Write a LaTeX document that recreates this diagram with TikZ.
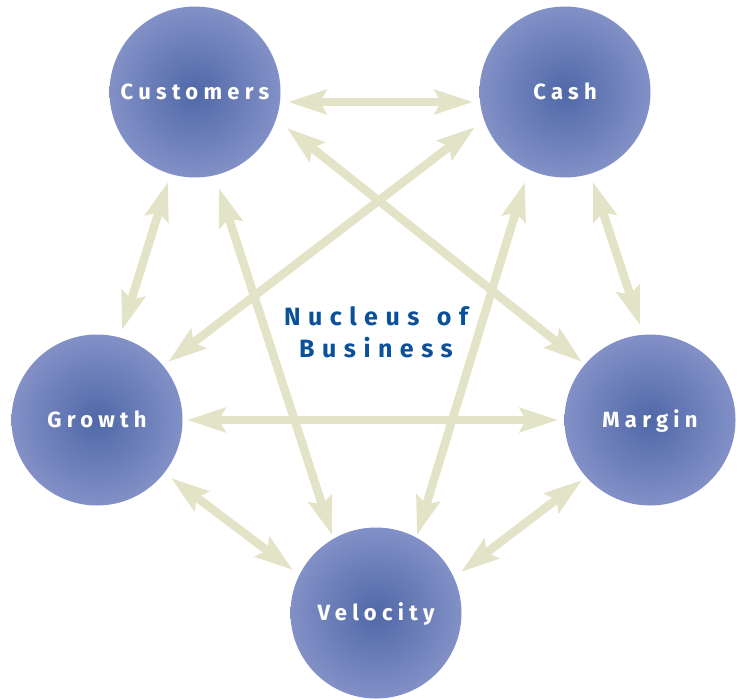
\documentclass[tikz,border=0pt]{standalone}
\usepackage{fontspec}
\setmainfont{Fira Sans}
\newfontfamily\labfont[LetterSpace=24]{Fira Sans}
\newfontfamily\nucfont[LetterSpace=30]{Fira Sans}
\usetikzlibrary{arrows.meta}
\definecolor{arrowc}{RGB}{227,228,199}
\definecolor{ballin}{RGB}{80,104,168}
\definecolor{ballmid}{RGB}{136,149,202}
\definecolor{ballout}{RGB}{184,190,225}
\definecolor{nucc}{RGB}{10,80,155}
\pgfdeclareradialshading{ballshade}{\pgfpoint{0bp}{0bp}}{color(0bp)=(ballin); color(28bp)=(ballmid); color(50bp)=(ballout); color(100bp)=(ballout)}
\tikzset{
  ball/.style={circle, minimum size=171pt, inner sep=0pt, shading=ballshade,
    text=white, text height=17pt, text depth=2pt,
    font=\labfont\bfseries\fontsize{22pt}{26pt}\selectfont},
  link/.style={draw=arrowc, line width=8.5pt,
    {Stealth[length=38pt,width=24pt,inset=6pt]}-{Stealth[length=38pt,width=24pt,inset=6pt]}},
  nucleus/.style={text=nucc, font=\nucfont\bfseries\fontsize{25pt}{32pt}\selectfont, align=center}
}
\begin{document}
\begin{tikzpicture}[x=1pt,y=-1pt]
\useasboundingbox (0,0) rectangle (743,699);
% arrow end points
\coordinate (a1) at (288,102); \coordinate (b1) at (473,102);
\coordinate (a2) at (168,182); \coordinate (b2) at (122,330);
\coordinate (a3) at (219,188); \coordinate (b3) at (332,535);
\coordinate (a4) at (287,128); \coordinate (b4) at (582,362);
\coordinate (a5) at (475,127); \coordinate (b5) at (168,362);
\coordinate (a6) at (525,182); \coordinate (b6) at (417,535);
\coordinate (a7) at (593,182); \coordinate (b7) at (640,325);
\coordinate (a8) at (187,420); \coordinate (b8) at (558,420);
\coordinate (a9) at (171,478); \coordinate (b9) at (293,570);
\coordinate (a10) at (582,480); \coordinate (b10) at (461,572);
\foreach \i in {1,...,10} { \draw[link] (a\i) -- (b\i); }
% circles
\node[ball] (cus) at (195,92) {Customers};
\node[ball] (cash) at (565,92) {Cash};
\node[ball] (gro) at (97,420) {Growth};
\node[ball] (mar) at (650,420) {Margin};
\node[ball] (vel) at (376,613) {Velocity};
\node[nucleus] (nuc) at (376,332) {Nucleus\hspace{0.7em}of\\Business};
\end{tikzpicture}
\end{document}
